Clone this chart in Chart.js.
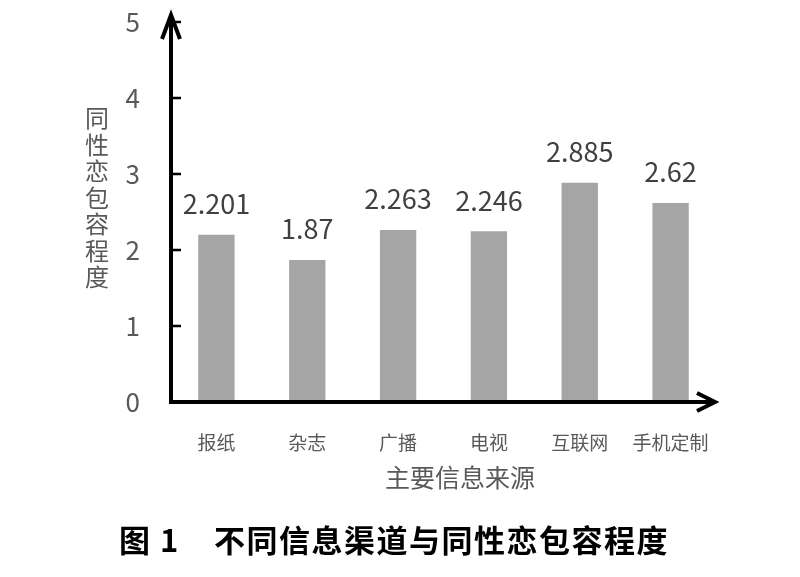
<!DOCTYPE html>
<html lang="zh-CN">
  <head>
    <meta charset="UTF-8" />
    <title>不同信息渠道与同性恋包容程度</title>
    <script src="https://cdn.jsdelivr.net/npm/chart.js"></script>
    <style>
      body { margin: 0; background: #fff; }
      #chart { display: block; }
    </style>
  </head>
  <body>
    <canvas id="chart" width="800" height="577"></canvas>

    <script>
      // 数据
      const sources = ["报纸", "杂志", "广播", "电视", "互联网", "手机定制"];
      const tolerance = [2.201, 1.87, 2.263, 2.246, 2.885, 2.62];
      const yTicks = [0, 1, 2, 3, 4, 5];

      const yTitle = "同性恋包容程度";
      const xTitle = "主要信息来源";
      const caption = ["图 1", "不同信息渠道与同性恋包容程度"];

      const cjk = '"Noto Sans CJK SC", "Noto Sans", sans-serif';

      // 坐标轴、箭头、数值标签和图题
      const decorations = {
        id: "decorations",
        afterDatasetsDraw(chart) {
          const ctx = chart.ctx;
          const area = chart.chartArea;
          const y = chart.scales.y;
          const x0 = area.left, y0 = y.getPixelForValue(0);

          ctx.save();
          ctx.strokeStyle = "#000";
          ctx.lineCap = "butt";

          // 刻度线
          ctx.lineWidth = 2.5;
          yTicks.forEach(v => {
            const py = y.getPixelForValue(v);
            ctx.beginPath();
            ctx.moveTo(x0, py);
            ctx.lineTo(x0 + 10, py);
            ctx.stroke();
          });

          // 轴线
          ctx.lineWidth = 4;
          ctx.beginPath();
          ctx.moveTo(x0, y0 + 2);
          ctx.lineTo(x0, area.top - 7);
          ctx.moveTo(x0 - 2, y0);
          ctx.lineTo(area.right - 1, y0);
          ctx.stroke();

          // 箭头
          ctx.lineJoin = "miter";
          ctx.beginPath();
          ctx.moveTo(x0 - 9, area.top + 17);
          ctx.lineTo(x0, area.top - 7);
          ctx.lineTo(x0 + 9, area.top + 17);
          ctx.stroke();
          ctx.beginPath();
          ctx.moveTo(area.right - 19, y0 - 9);
          ctx.lineTo(area.right - 1, y0);
          ctx.lineTo(area.right - 19, y0 + 9);
          ctx.stroke();

          // 数值标签
          ctx.fillStyle = "#404040";
          ctx.font = "27px " + cjk;
          ctx.textAlign = "center";
          ctx.textBaseline = "middle";
          chart.getDatasetMeta(0).data.forEach((bar, i) => {
            ctx.fillText(String(tolerance[i]), bar.x, bar.y - 31);
          });

          // 纵轴标题（竖排）
          ctx.fillStyle = "#595959";
          ctx.font = "24px " + cjk;
          [...yTitle].forEach((ch, i) => {
            ctx.fillText(ch, 97, 118 + i * 26.5);
          });

          // 横轴标题
          ctx.font = "25px " + cjk;
          ctx.fillText(xTitle, 460, 477);

          // 图题
          ctx.fillStyle = "#000";
          ctx.font = "bold 31px " + cjk;
          ctx.textAlign = "left";
          ctx.letterSpacing = "1.5px";
          ctx.fillText(caption[0], 119, 540);
          ctx.fillText(caption[1], 214, 540);

          ctx.restore();
        }
      };

      new Chart(document.getElementById("chart"), {
        type: "bar",
        data: {
          labels: sources,
          datasets: [{
            data: tolerance,
            backgroundColor: "#a5a5a5",
            borderWidth: 0,
            barPercentage: 0.4,
            categoryPercentage: 1
          }]
        },
        options: {
          responsive: false,
          animation: false,
          layout: { padding: { left: 111, right: 84, top: 22, bottom: 115 } },
          plugins: {
            legend: { display: false },
            tooltip: { enabled: false }
          },
          scales: {
            x: {
              grid: { display: false, drawTicks: false },
              border: { display: false },
              ticks: { color: "#595959", font: { size: 19, family: cjk }, padding: 29 },
              afterFit(scale) {
                scale.height = 60;
                scale.paddingLeft = 0;
                scale.paddingRight = 0;
              }
            },
            y: {
              min: 0,
              max: 5,
              grid: { display: false, drawTicks: false },
              border: { display: false },
              ticks: { stepSize: 1, color: "#595959", font: { size: 26, family: cjk }, padding: 31 },
              afterFit(scale) {
                scale.width = 60;
                scale.paddingTop = 0;
                scale.paddingBottom = 0;
              }
            }
          }
        },
        plugins: [decorations]
      });
    </script>
  </body>
</html>
